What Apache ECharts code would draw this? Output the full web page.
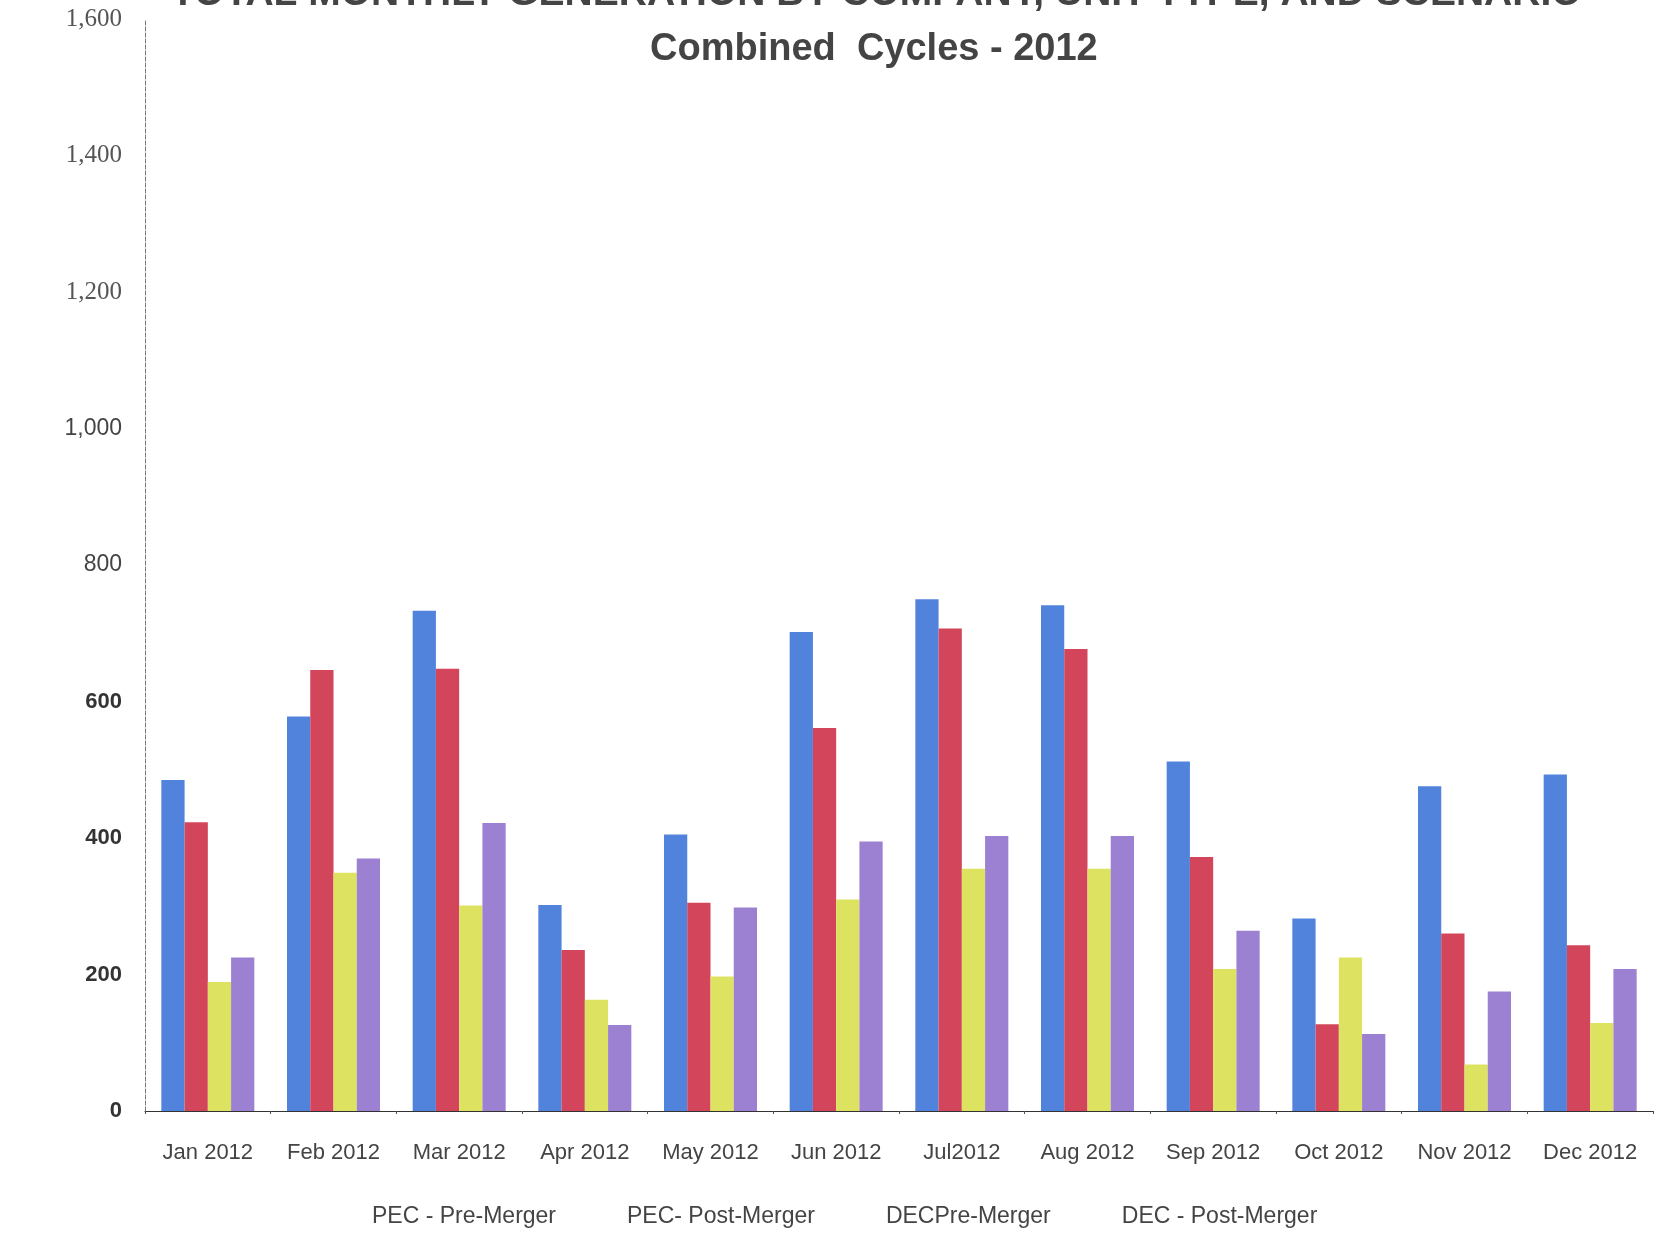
<!DOCTYPE html>
<html>
<head>
<meta charset="utf-8">
<title>Combined Cycles - 2012</title>
<script src="https://cdn.jsdelivr.net/npm/echarts@6/dist/echarts.min.js"></script>
<style>
  html, body { margin: 0; padding: 0; background: #fff; }
  #chart { width: 1659px; height: 1233px; }
</style>
</head>
<body>
<div id="chart"></div>
<script>
// months on the x axis (labels as printed)
const months = ['Jan 2012', 'Feb 2012', 'Mar 2012', 'Apr 2012', 'May 2012', 'Jun 2012',
  'Jul2012', 'Aug 2012', 'Sep 2012', 'Oct 2012', 'Nov 2012', 'Dec 2012']

const seriesNames = ['PEC - Pre-Merger', 'PEC- Post-Merger', 'DECPre-Merger', 'DEC - Post-Merger']

// values
const pecPre = [485, 578, 733, 302, 405, 702, 750, 741, 512, 282, 476, 493]
const pecPost = [423, 646, 648, 236, 305, 561, 707, 677, 372, 127, 260, 243]
const decPre = [189, 349, 301, 163, 197, 310, 355, 355, 208, 225, 68, 129]
const decPost = [225, 370, 422, 126, 298, 395, 403, 403, 264, 113, 175, 208]

const yTicks = [0, 200, 400, 600, 800, 1000, 1200, 1400, 1600]

const colors = ['#5283dc', '#d2455a', '#dde360', '#9c80d2']

const chart = echarts.init(document.getElementById('chart'))

const makeBar = (name, data, i) => ({
  name: name,
  type: 'bar',
  data: data,
  barGap: '0%',
  barCategoryGap: '26%',
  itemStyle: { color: colors[i] }
})

const option = {
  animation: false,
  backgroundColor: '#fff',
  title: [
    {
      text: 'TOTAL MONTHLY GENERATION BY COMPANY, UNIT TYPE, AND SCENARIO',
      left: 166,
      top: -30,
      textStyle: { fontFamily: 'Liberation Sans', fontWeight: 'bold', fontSize: 39, color: '#444' }
    },
    {
      text: 'Combined  Cycles - 2012',
      left: 645,
      top: 26,
      textStyle: { fontFamily: 'Liberation Sans', fontWeight: 'bold', fontSize: 38, color: '#444' }
    }
  ],
  legend: {
    data: seriesNames,
    bottom: 0,
    left: 362,
    icon: 'none',
    itemWidth: 0,
    itemGap: 66,
    textStyle: { fontFamily: 'Liberation Sans', fontSize: 23, color: '#444' }
  },
  grid: { left: 145, right: 6, top: 19, bottom: 122 },
  xAxis: {
    type: 'category',
    data: months,
    axisLine: { lineStyle: { color: '#333', width: 1 } },
    axisTick: { show: true, length: 3, lineStyle: { color: '#555' } },
    axisLabel: { margin: 31, fontFamily: 'Liberation Sans', fontSize: 22, color: '#444' }
  },
  yAxis: {
    type: 'value',
    min: 0,
    max: yTicks[yTicks.length - 1],
    interval: yTicks[1] - yTicks[0],
    splitLine: { show: false },
    axisLine: { show: true, lineStyle: { color: '#777', width: 1, type: 'dashed' } },
    axisTick: { show: false },
    axisLabel: {
      margin: 23,
      formatter: function (v) {
        const s = v.toLocaleString('en-US')
        if (v >= 1200) return '{serif|' + s + '}'
        if (v >= 800) return '{plain|' + s + '}'
        return '{heavy|' + s + '}'
      },
      rich: {
        serif: { fontFamily: 'Liberation Serif', fontSize: 25, color: '#555' },
        plain: { fontFamily: 'Liberation Sans', fontSize: 23, color: '#444' },
        heavy: { fontFamily: 'Liberation Sans', fontSize: 22, fontWeight: 'bold', color: '#333' }
      }
    }
  },
  series: [
    makeBar(seriesNames[0], pecPre, 0),
    makeBar(seriesNames[1], pecPost, 1),
    makeBar(seriesNames[2], decPre, 2),
    makeBar(seriesNames[3], decPost, 3)
  ]
}

chart.setOption(option)
</script>
</body>
</html>
